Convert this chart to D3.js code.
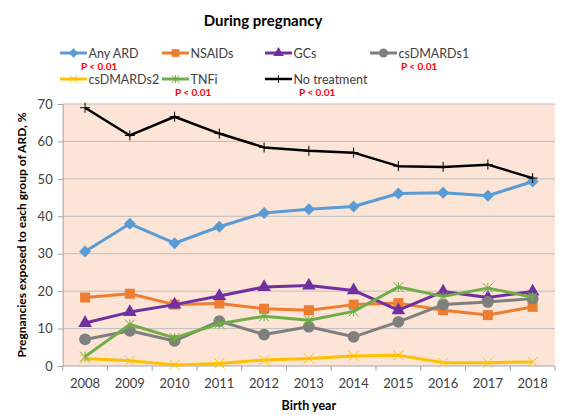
<!DOCTYPE html>
<html>
<head>
<meta charset="utf-8">
<script src="https://cdn.jsdelivr.net/npm/d3@7"></script>
<style>
  body { margin: 0; background: #fff; }
  text { font-family: Lato, "Open Sans", sans-serif; }
</style>
</head>
<body>
<div id="chart"></div>
<script>
const years = [2008, 2009, 2010, 2011, 2012, 2013, 2014, 2015, 2016, 2017, 2018];
const yTicks = [0, 10, 20, 30, 40, 50, 60, 70];

const anyArd      = [30.6, 38.0, 32.8, 37.2, 40.9, 41.9, 42.6, 46.1, 46.3, 45.5, 49.3];
const nsaids      = [18.3, 19.3, 16.4, 16.7, 15.3, 14.9, 16.4, 16.8, 14.9, 13.6, 15.8];
const gcs         = [11.5, 14.4, 16.4, 18.7, 21.1, 21.5, 20.2, 14.9, 19.9, 18.3, 19.9];
const csdmards1   = [7.1, 9.4, 6.7, 12.0, 8.4, 10.5, 7.8, 11.8, 16.4, 17.1, 18.0];
const csdmards2   = [2.0, 1.4, 0.3, 0.7, 1.6, 2.0, 2.7, 2.9, 0.9, 0.9, 1.1];
const tnfi        = [2.5, 11.1, 7.5, 11.3, 13.3, 12.2, 14.6, 21.1, 18.6, 20.8, 18.4];
const noTreatment = [69.0, 61.6, 66.6, 62.1, 58.4, 57.5, 57.0, 53.4, 53.2, 53.8, 50.2];

// custom marker shapes usable by d3.symbol()
const diamondSym = { draw(c, s) { const r = Math.sqrt(s) * 0.75;
  c.moveTo(0, -r); c.lineTo(r, 0); c.lineTo(0, r); c.lineTo(-r, 0); c.closePath(); } };
const timesSym = { draw(c, s) { const r = Math.sqrt(s) / 2;
  c.moveTo(-r, -r); c.lineTo(r, r); c.moveTo(r, -r); c.lineTo(-r, r); } };
const starSym = { draw(c, s) { const r = Math.sqrt(s) / 2;
  c.moveTo(-r, -r); c.lineTo(r, r); c.moveTo(r, -r); c.lineTo(-r, r);
  c.moveTo(0, -r); c.lineTo(0, r); } };
const plusSym = { draw(c, s) { const r = Math.sqrt(s) / 2;
  c.moveTo(-r, 0); c.lineTo(r, 0); c.moveTo(0, -r); c.lineTo(0, r); } };

const series = [
  { name: "Any ARD", values: anyArd, color: "#5B9BD5", sym: diamondSym, size: 64, filled: true, w: 3 },
  { name: "NSAIDs", values: nsaids, color: "#ED7D31", sym: d3.symbolSquare, size: 100, filled: true, w: 3 },
  { name: "GCs", values: gcs, color: "#7030A0", sym: d3.symbolTriangle, size: 80, filled: true, w: 3 },
  { name: "csDMARDs1", values: csdmards1, color: "#7F7F7F", sym: d3.symbolCircle, size: 110, filled: true, w: 3 },
  { name: "csDMARDs2", values: csdmards2, color: "#FFC000", sym: timesSym, size: 100, filled: false, w: 3 },
  { name: "TNFi", values: tnfi, color: "#70AD47", sym: starSym, size: 100, filled: false, w: 3 },
  { name: "No treatment", values: noTreatment, color: "#000000", sym: plusSym, size: 100, filled: false, w: 2.5 }
];

const width = 564, height = 420;
const plot = { left: 62.7, right: 555, top: 104, bottom: 366 };

const svg = d3.select("#chart").append("svg")
  .attr("width", width).attr("height", height);

const x = d3.scaleBand().domain(years).range([plot.left, plot.right]);
const y = d3.scaleLinear().domain([0, 70]).range([plot.bottom, plot.top]);
const cx = d => x(d) + x.bandwidth() / 2;

// plot background
svg.append("rect")
  .attr("x", plot.left).attr("y", plot.top)
  .attr("width", plot.right - plot.left).attr("height", plot.bottom - plot.top)
  .attr("fill", "#FCE4D6");

// gridlines
svg.append("g").selectAll("line").data(yTicks.filter(t => t > 0)).join("line")
  .attr("x1", plot.left).attr("x2", plot.right)
  .attr("y1", d => y(d)).attr("y2", d => y(d))
  .attr("stroke", "#BFBFBF").attr("stroke-width", 1);

// y axis
const yAxis = svg.append("g")
  .attr("transform", `translate(${plot.left},0)`)
  .call(d3.axisLeft(y).tickValues(yTicks).tickSize(5).tickPadding(5));
yAxis.select(".domain").attr("stroke", "#A6A6A6");
yAxis.selectAll(".tick line").attr("stroke", "#A6A6A6");
yAxis.selectAll(".tick text").attr("font-size", 13).attr("fill", "#404040")
  .style("font-family", "Lato, sans-serif");

// x axis: ticks sit between categories
const xAxis = svg.append("g").attr("transform", `translate(0,${plot.bottom})`);
xAxis.append("line").attr("x1", plot.left).attr("x2", plot.right)
  .attr("stroke", "#A6A6A6");
const bounds = years.map(d => x(d)).concat([plot.right]);
xAxis.selectAll(".xt").data(bounds).join("line")
  .attr("class", "xt")
  .attr("x1", d => d).attr("x2", d => d).attr("y1", 0).attr("y2", 5)
  .attr("stroke", "#A6A6A6");
xAxis.selectAll(".xl").data(years).join("text")
  .attr("class", "xl")
  .attr("x", d => cx(d)).attr("y", 22)
  .attr("text-anchor", "middle").attr("font-size", 13).attr("fill", "#404040")
  .text(d => d);

// lines and markers
const line = d3.line().x((d, i) => cx(years[i])).y(d => y(d));
series.forEach(s => {
  const g = svg.append("g");
  g.append("path").datum(s.values)
    .attr("d", line).attr("fill", "none")
    .attr("stroke", s.color).attr("stroke-width", s.w)
    .attr("stroke-linejoin", "round");
  g.selectAll("path.m").data(s.values).join("path")
    .attr("class", "m")
    .attr("transform", (d, i) => `translate(${cx(years[i])},${y(d)})`)
    .attr("d", d3.symbol().type(s.sym).size(s.size))
    .attr("fill", s.filled ? s.color : "none")
    .attr("stroke", s.filled ? "none" : s.color)
    .attr("stroke-width", 1);
});

// title
svg.append("text")
  .attr("x", 263).attr("y", 26)
  .attr("text-anchor", "middle").attr("font-size", 15).attr("font-weight", "bold")
  .attr("fill", "#000")
  .text("During pregnancy");

// axis titles
svg.append("text")
  .attr("x", (plot.left + plot.right) / 2).attr("y", 410)
  .attr("text-anchor", "middle").attr("font-size", 12.5).attr("font-weight", "bold")
  .text("Birth year");
svg.append("text")
  .attr("transform", `translate(26,${(plot.top + plot.bottom) / 2}) rotate(-90)`)
  .attr("text-anchor", "middle").attr("font-size", 12).attr("font-weight", "bold")
  .text("Pregnancies exposed to each group of ARD, %");

// legend
const colX = [60, 162, 265, 370];
const rowY = [53, 79];
series.forEach((s, i) => {
  const lx = colX[i % 4], ly = rowY[Math.floor(i / 4)];
  const g = svg.append("g").attr("transform", `translate(${lx},${ly})`);
  g.append("line").attr("x1", 0).attr("x2", 27)
    .attr("stroke", s.color).attr("stroke-width", s.w);
  g.append("path").attr("transform", "translate(13.5,0)")
    .attr("d", d3.symbol().type(s.sym).size(s.size * 0.6))
    .attr("fill", s.filled ? s.color : "none")
    .attr("stroke", s.filled ? "none" : s.color);
  g.append("text").attr("x", 28.5).attr("y", 4.5)
    .attr("font-size", 12.5).attr("fill", "#404040")
    .text(s.name);
});

// significance labels
const pLabels = [
  { text: "P < 0.01", x: 81, y: 70 },
  { text: "P < 0.01", x: 401, y: 70 },
  { text: "P < 0.01", x: 175, y: 96 },
  { text: "P < 0.01", x: 299, y: 96 }
];
svg.selectAll(".plab").data(pLabels).join("text")
  .attr("class", "plab")
  .attr("x", d => d.x).attr("y", d => d.y)
  .attr("font-size", 10).attr("font-weight", "bold").attr("fill", "#FF0000")
  .text(d => d.text);
</script>
</body>
</html>
